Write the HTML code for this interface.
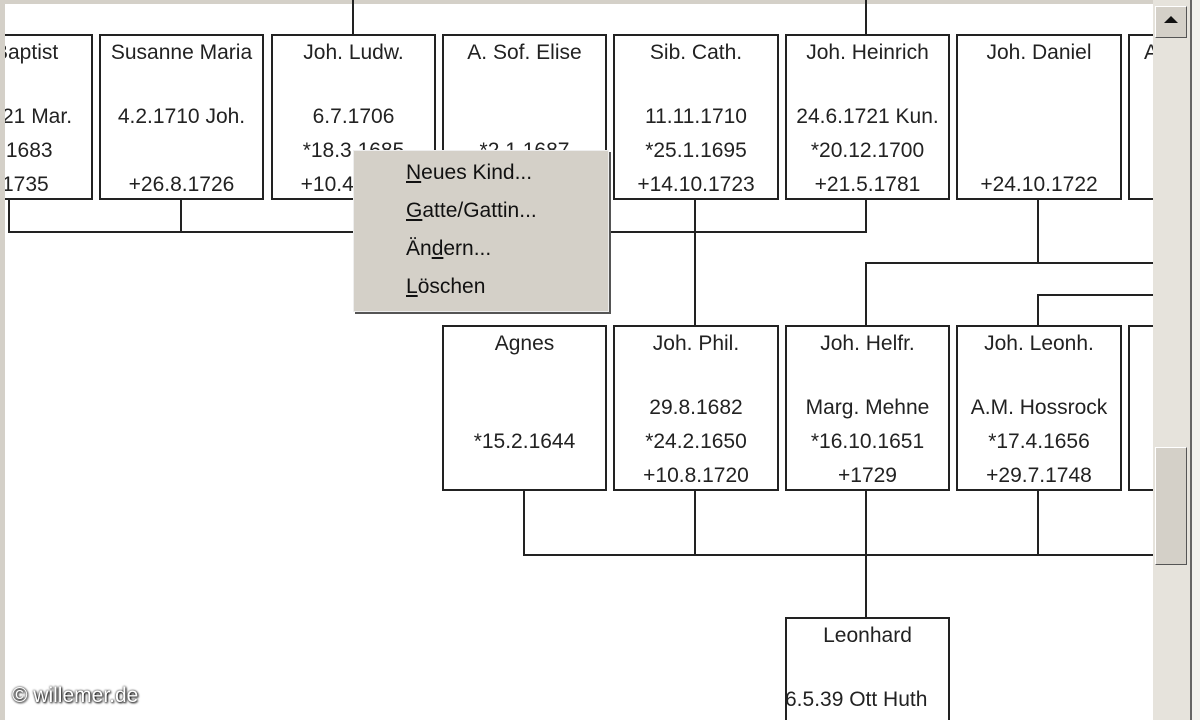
<!DOCTYPE html>
<html><head><meta charset="utf-8"><style>
html,body{margin:0;width:1200px;height:720px;overflow:hidden}
body{background:#fff;position:relative;font-family:"Liberation Sans",Arial,sans-serif}
.b{position:absolute;border:2px solid #222;background:#fff;box-sizing:border-box;height:166px;font-size:21px;color:#222;overflow:hidden;white-space:nowrap}
.b div{position:absolute;left:0;right:0;text-align:center;line-height:24px}
.l{position:absolute;background:#222}
.menu{position:absolute;left:353px;top:150px;width:256px;height:162px;background:#d4d0c8;box-shadow:2px 2px 0 #555;border:1px solid #eee;box-sizing:border-box;font-size:21px;color:#111}
.menu div{position:absolute;left:52px}
</style></head><body>
<div style="position:absolute;left:0;top:0;width:1200px;height:4px;background:#d4d0c8"></div>
<div class="l" style="left:352px;top:0;width:2px;height:34px"></div>
<div class="l" style="left:865px;top:0;width:2px;height:34px"></div>
<div class="l" style="left:8px;top:231px;width:859px;height:2px"></div>
<div class="l" style="left:8px;top:199px;width:2px;height:34px"></div>
<div class="l" style="left:180px;top:199px;width:2px;height:34px"></div>
<div class="l" style="left:865px;top:199px;width:2px;height:34px"></div>
<div class="l" style="left:694px;top:199px;width:2px;height:126px"></div>
<div class="l" style="left:1037px;top:199px;width:2px;height:64px"></div>
<div class="l" style="left:865px;top:262px;width:290px;height:2px"></div>
<div class="l" style="left:865px;top:262px;width:2px;height:63px"></div>
<div class="l" style="left:1037px;top:294px;width:118px;height:2px"></div>
<div class="l" style="left:1037px;top:294px;width:2px;height:31px"></div>
<div class="l" style="left:523px;top:490px;width:2px;height:65px"></div>
<div class="l" style="left:694px;top:490px;width:2px;height:65px"></div>
<div class="l" style="left:1037px;top:490px;width:2px;height:65px"></div>
<div class="l" style="left:865px;top:490px;width:2px;height:127px"></div>
<div class="l" style="left:523px;top:554px;width:632px;height:2px"></div>
<!-- top row -->
<div class="b" style="left:-10px;top:34px;width:103px;border-left:none"><div style="top:5px;text-align:left;left:4px">Baptist</div><div style="top:69px;text-align:left;left:12px">21 Mar.</div><div style="top:103px;text-align:left;left:10px">.1683</div><div style="top:137px;text-align:left;left:12px">1735</div></div>
<div class="b" style="left:99px;top:34px;width:165px"><div style="top:5px">Susanne Maria</div><div style="top:69px">4.2.1710 Joh.</div><div style="top:137px">+26.8.1726</div></div>
<div class="b" style="left:271px;top:34px;width:165px"><div style="top:5px">Joh. Ludw.</div><div style="top:69px">6.7.1706</div><div style="top:103px">*18.3.1685</div><div style="top:137px">+10.4.1750</div></div>
<div class="b" style="left:442px;top:34px;width:165px"><div style="top:5px">A. Sof. Elise</div><div style="top:103px">*2.1.1687</div></div>
<div class="b" style="left:613px;top:34px;width:166px"><div style="top:5px">Sib. Cath.</div><div style="top:69px">11.11.1710</div><div style="top:103px">*25.1.1695</div><div style="top:137px">+14.10.1723</div></div>
<div class="b" style="left:785px;top:34px;width:165px"><div style="top:5px">Joh. Heinrich</div><div style="top:69px">24.6.1721 Kun.</div><div style="top:103px">*20.12.1700</div><div style="top:137px">+21.5.1781</div></div>
<div class="b" style="left:956px;top:34px;width:166px"><div style="top:5px">Joh. Daniel</div><div style="top:137px">+24.10.1722</div></div>
<div class="b" style="left:1128px;top:34px;width:40px;border-right:none"><div style="top:5px;text-align:left;left:14px">A</div></div>
<!-- second row -->
<div class="b" style="left:442px;top:325px;width:165px"><div style="top:5px">Agnes</div><div style="top:103px">*15.2.1644</div></div>
<div class="b" style="left:613px;top:325px;width:166px"><div style="top:5px">Joh. Phil.</div><div style="top:69px">29.8.1682</div><div style="top:103px">*24.2.1650</div><div style="top:137px">+10.8.1720</div></div>
<div class="b" style="left:785px;top:325px;width:165px"><div style="top:5px">Joh. Helfr.</div><div style="top:69px">Marg. Mehne</div><div style="top:103px">*16.10.1651</div><div style="top:137px">+1729</div></div>
<div class="b" style="left:956px;top:325px;width:166px"><div style="top:5px">Joh. Leonh.</div><div style="top:69px">A.M. Hossrock</div><div style="top:103px">*17.4.1656</div><div style="top:137px">+29.7.1748</div></div>
<div class="b" style="left:1128px;top:325px;width:40px;border-right:none"></div>
<div class="b" style="left:785px;top:617px;width:165px;height:103px;border-bottom:none"><div style="top:5px">Leonhard</div><div style="top:69px;text-align:left;left:-2px">6.5.39 Ott Huth</div></div>
<div style="position:absolute;left:0;top:0;width:5px;height:720px;background:#d4d0c8"></div>
<!-- menu -->
<div class="menu">
<div style="top:10px"><u>N</u>eues Kind...</div>
<div style="top:48px"><u>G</u>atte/Gattin...</div>
<div style="top:86px">Än<u>d</u>ern...</div>
<div style="top:124px"><u>L</u>öschen</div>
</div>
<!-- scrollbar -->
<div style="position:absolute;left:1153px;top:0;width:37px;height:720px;background:#e6e3dc"></div>
<div style="position:absolute;left:1155px;top:6px;width:32px;height:32px;background:#d4d0c8;border:1px solid #fff;border-right-color:#555;border-bottom-color:#555;box-sizing:border-box"></div>
<div style="position:absolute;left:1164px;top:16px;width:0;height:0;border-left:7px solid transparent;border-right:7px solid transparent;border-bottom:7px solid #111"></div>
<div style="position:absolute;left:1155px;top:447px;width:32px;height:118px;background:#d4d0c8;border:1px solid #fff;border-right-color:#555;border-bottom-color:#555;box-sizing:border-box"></div>
<div style="position:absolute;left:1190px;top:0;width:10px;height:720px;background:#f2f2ee;border-left:2px solid #666;box-sizing:border-box"></div>
<div style="position:absolute;left:12px;top:684px;font-size:21px;color:#fff;text-shadow:0 0 2px #000,1px 1px 2px #000">© willemer.de</div>
</body></html>
